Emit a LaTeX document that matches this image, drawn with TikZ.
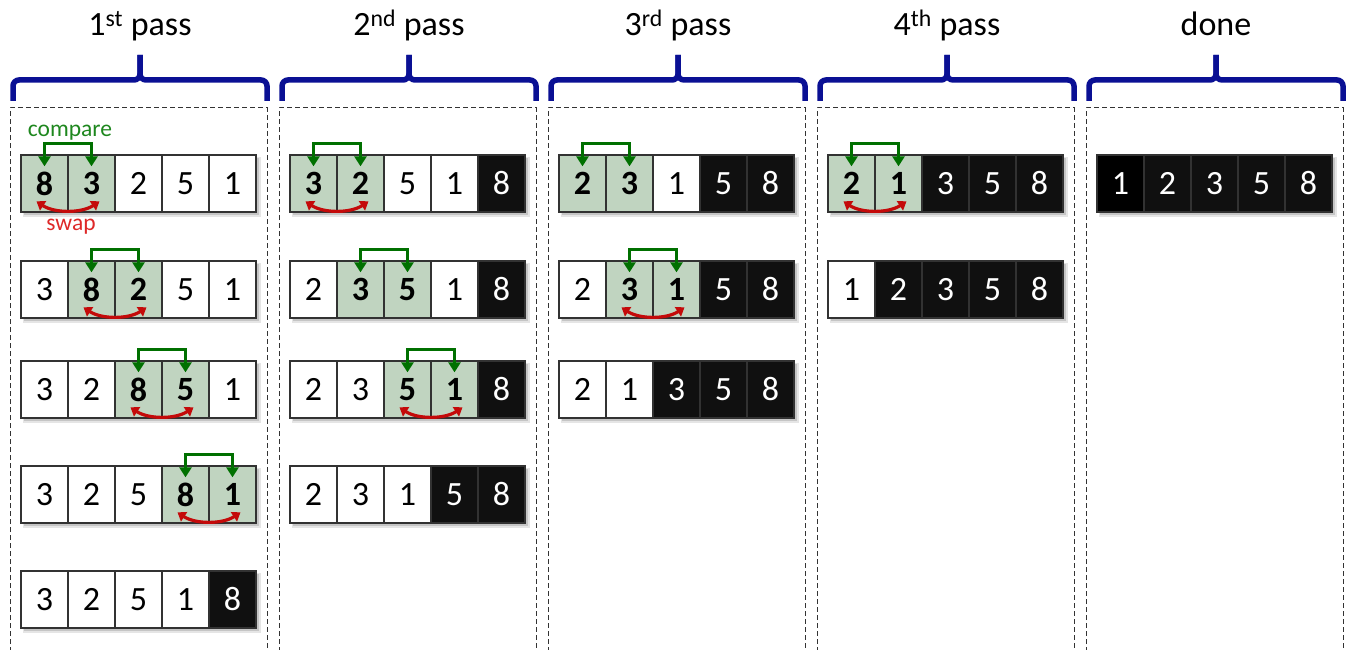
\documentclass[tikz,border=0pt]{standalone}
\usepackage{fontspec}
\setmainfont{Carlito}
\usetikzlibrary{arrows.meta}

\definecolor{braceblue}{RGB}{10,16,148}
\definecolor{cmpgreen}{RGB}{0,112,0}
\definecolor{cmptxt}{RGB}{30,135,30}
\definecolor{swpred}{RGB}{196,10,10}
\definecolor{swptxt}{RGB}{222,40,40}
\definecolor{cellline}{RGB}{50,50,50}
\definecolor{Fw}{RGB}{255,255,255}
\definecolor{Fg}{RGB}{192,212,192}
\definecolor{Fk}{RGB}{16,16,16}
\definecolor{Fx}{RGB}{0,0,0}
\definecolor{Tw}{RGB}{0,0,0}
\definecolor{Tg}{RGB}{0,0,0}
\definecolor{Tk}{RGB}{255,255,255}
\definecolor{Tx}{RGB}{255,255,255}

% digit formatting per cell type: w plain, g compared pair, k/x sorted
\newcommand\dgw[1]{#1}
\newcommand\dgg[1]{\textbf{#1}}
\newcommand\dgk[1]{#1}
\newcommand\dgx[1]{#1}

% one row of five cells: #1 name, #2 left x, #3 top y, #4 digit/type list
\newcommand\cellrow[4]{%
  \fill[black,opacity=.10] (#2+2,#3+2) rectangle (#2+240,#3+62);
  \fill[black,opacity=.14] (#2+3,#3+3) rectangle (#2+238,#3+60);
  \foreach \d/\t [count=\i from 0] in {#4} {
    \node[cell, fill=F\t, text=T\t] (#1-\i) at (#2+23.5+47*\i, #3+28.5) {\csname dg\t\endcsname{\d}};
  }%
}
% compare bracket between two cells
\newcommand\cmp[2]{%
  \draw[cmpline] ([yshift=-12pt]#1.north) -- ([yshift=11pt]#1.north)
    -- ([yshift=11pt]#2.north) -- ([yshift=-12pt]#2.north);}
% swap arc between two cells
\newcommand\swp[2]{%
  \draw[swpline] ([shift={(-8pt,-47pt)}]#1.north)
    .. controls ([shift={(10pt,-59pt)}]#1.north) and ([shift={(-10pt,-59pt)}]#2.north)
    .. ([shift={(8pt,-47pt)}]#2.north);}
% column: #1 left x, #2 title, #3 title node name
\newcommand\passcol[3]{%
  \draw[dashbox] (#1,660) -- (#1,108) -- (#1+257,108) -- (#1+257,660);
  \draw[bracestyle] (#1+3,101) -- (#1+3,80) -- (#1+130,80) -- (#1+130,55);
  \draw[bracestyle] (#1+130,55) -- (#1+130,80) -- (#1+257,80) -- (#1+257,101);
  \node[title] (#3) at (#1+130,36) {#2};%
}

\begin{document}
\begin{tikzpicture}[x=1pt,y=-1pt,
  cell/.style={draw=cellline, line width=1.3pt, minimum width=47pt,
    minimum height=57pt, inner sep=0pt, font=\fontsize{34}{38}\selectfont},
  cmpline/.style={draw=cmpgreen, line width=3.3pt,
    {Triangle[length=10pt,width=12pt]}-{Triangle[length=10pt,width=12pt]}},
  swpline/.style={draw=swpred, line width=3.2pt,
    {Triangle[length=8pt,width=11pt]}-{Triangle[length=8pt,width=11pt]}},
  bracestyle/.style={draw=braceblue, line width=5.5pt, rounded corners=6pt},
  dashbox/.style={draw=black!80, line width=1pt, dash pattern=on 5pt off 3pt},
  title/.style={anchor=base, inner sep=0pt, font=\fontsize{34}{38}\selectfont},
  lbl/.style={anchor=base, inner sep=0pt, font=\fontsize{23.5}{27}\selectfont}]
\useasboundingbox (0,0) rectangle (1352,650);

\passcol{10}{1\textsuperscript{st} pass}{title1}
\passcol{279}{2\textsuperscript{nd} pass}{title2}
\passcol{548}{3\textsuperscript{rd} pass}{title3}
\passcol{817}{4\textsuperscript{th} pass}{title4}
\passcol{1086}{done}{title5}

% 1st pass
\cellrow{a1}{21}{155}{8/g,3/g,2/w,5/w,1/w}
\cellrow{a2}{21}{261}{3/w,8/g,2/g,5/w,1/w}
\cellrow{a3}{21}{361}{3/w,2/w,8/g,5/g,1/w}
\cellrow{a4}{21}{466}{3/w,2/w,5/w,8/g,1/g}
\cellrow{a5}{21}{571}{3/w,2/w,5/w,1/w,8/k}
\cmp{a1-0}{a1-1}\swp{a1-0}{a1-1}
\cmp{a2-1}{a2-2}\swp{a2-1}{a2-2}
\cmp{a3-2}{a3-3}\swp{a3-2}{a3-3}
\cmp{a4-3}{a4-4}\swp{a4-3}{a4-4}
\node[lbl, text=cmptxt] (compare) at (70,137) {compare};
\node[lbl, text=swptxt] (swap) at (71,230) {swap};

% 2nd pass
\cellrow{b1}{290}{155}{3/g,2/g,5/w,1/w,8/k}
\cellrow{b2}{290}{261}{2/w,3/g,5/g,1/w,8/k}
\cellrow{b3}{290}{361}{2/w,3/w,5/g,1/g,8/k}
\cellrow{b4}{290}{466}{2/w,3/w,1/w,5/k,8/k}
\cmp{b1-0}{b1-1}\swp{b1-0}{b1-1}
\cmp{b2-1}{b2-2}
\cmp{b3-2}{b3-3}\swp{b3-2}{b3-3}

% 3rd pass
\cellrow{c1}{559}{155}{2/g,3/g,1/w,5/k,8/k}
\cellrow{c2}{559}{261}{2/w,3/g,1/g,5/k,8/k}
\cellrow{c3}{559}{361}{2/w,1/w,3/k,5/k,8/k}
\cmp{c1-0}{c1-1}
\cmp{c2-1}{c2-2}\swp{c2-1}{c2-2}

% 4th pass
\cellrow{d1}{828}{155}{2/g,1/g,3/k,5/k,8/k}
\cellrow{d2}{828}{261}{1/w,2/k,3/k,5/k,8/k}
\cmp{d1-0}{d1-1}\swp{d1-0}{d1-1}

% done
\cellrow{e1}{1097}{155}{1/x,2/k,3/k,5/k,8/k}
\end{tikzpicture}
\end{document}
